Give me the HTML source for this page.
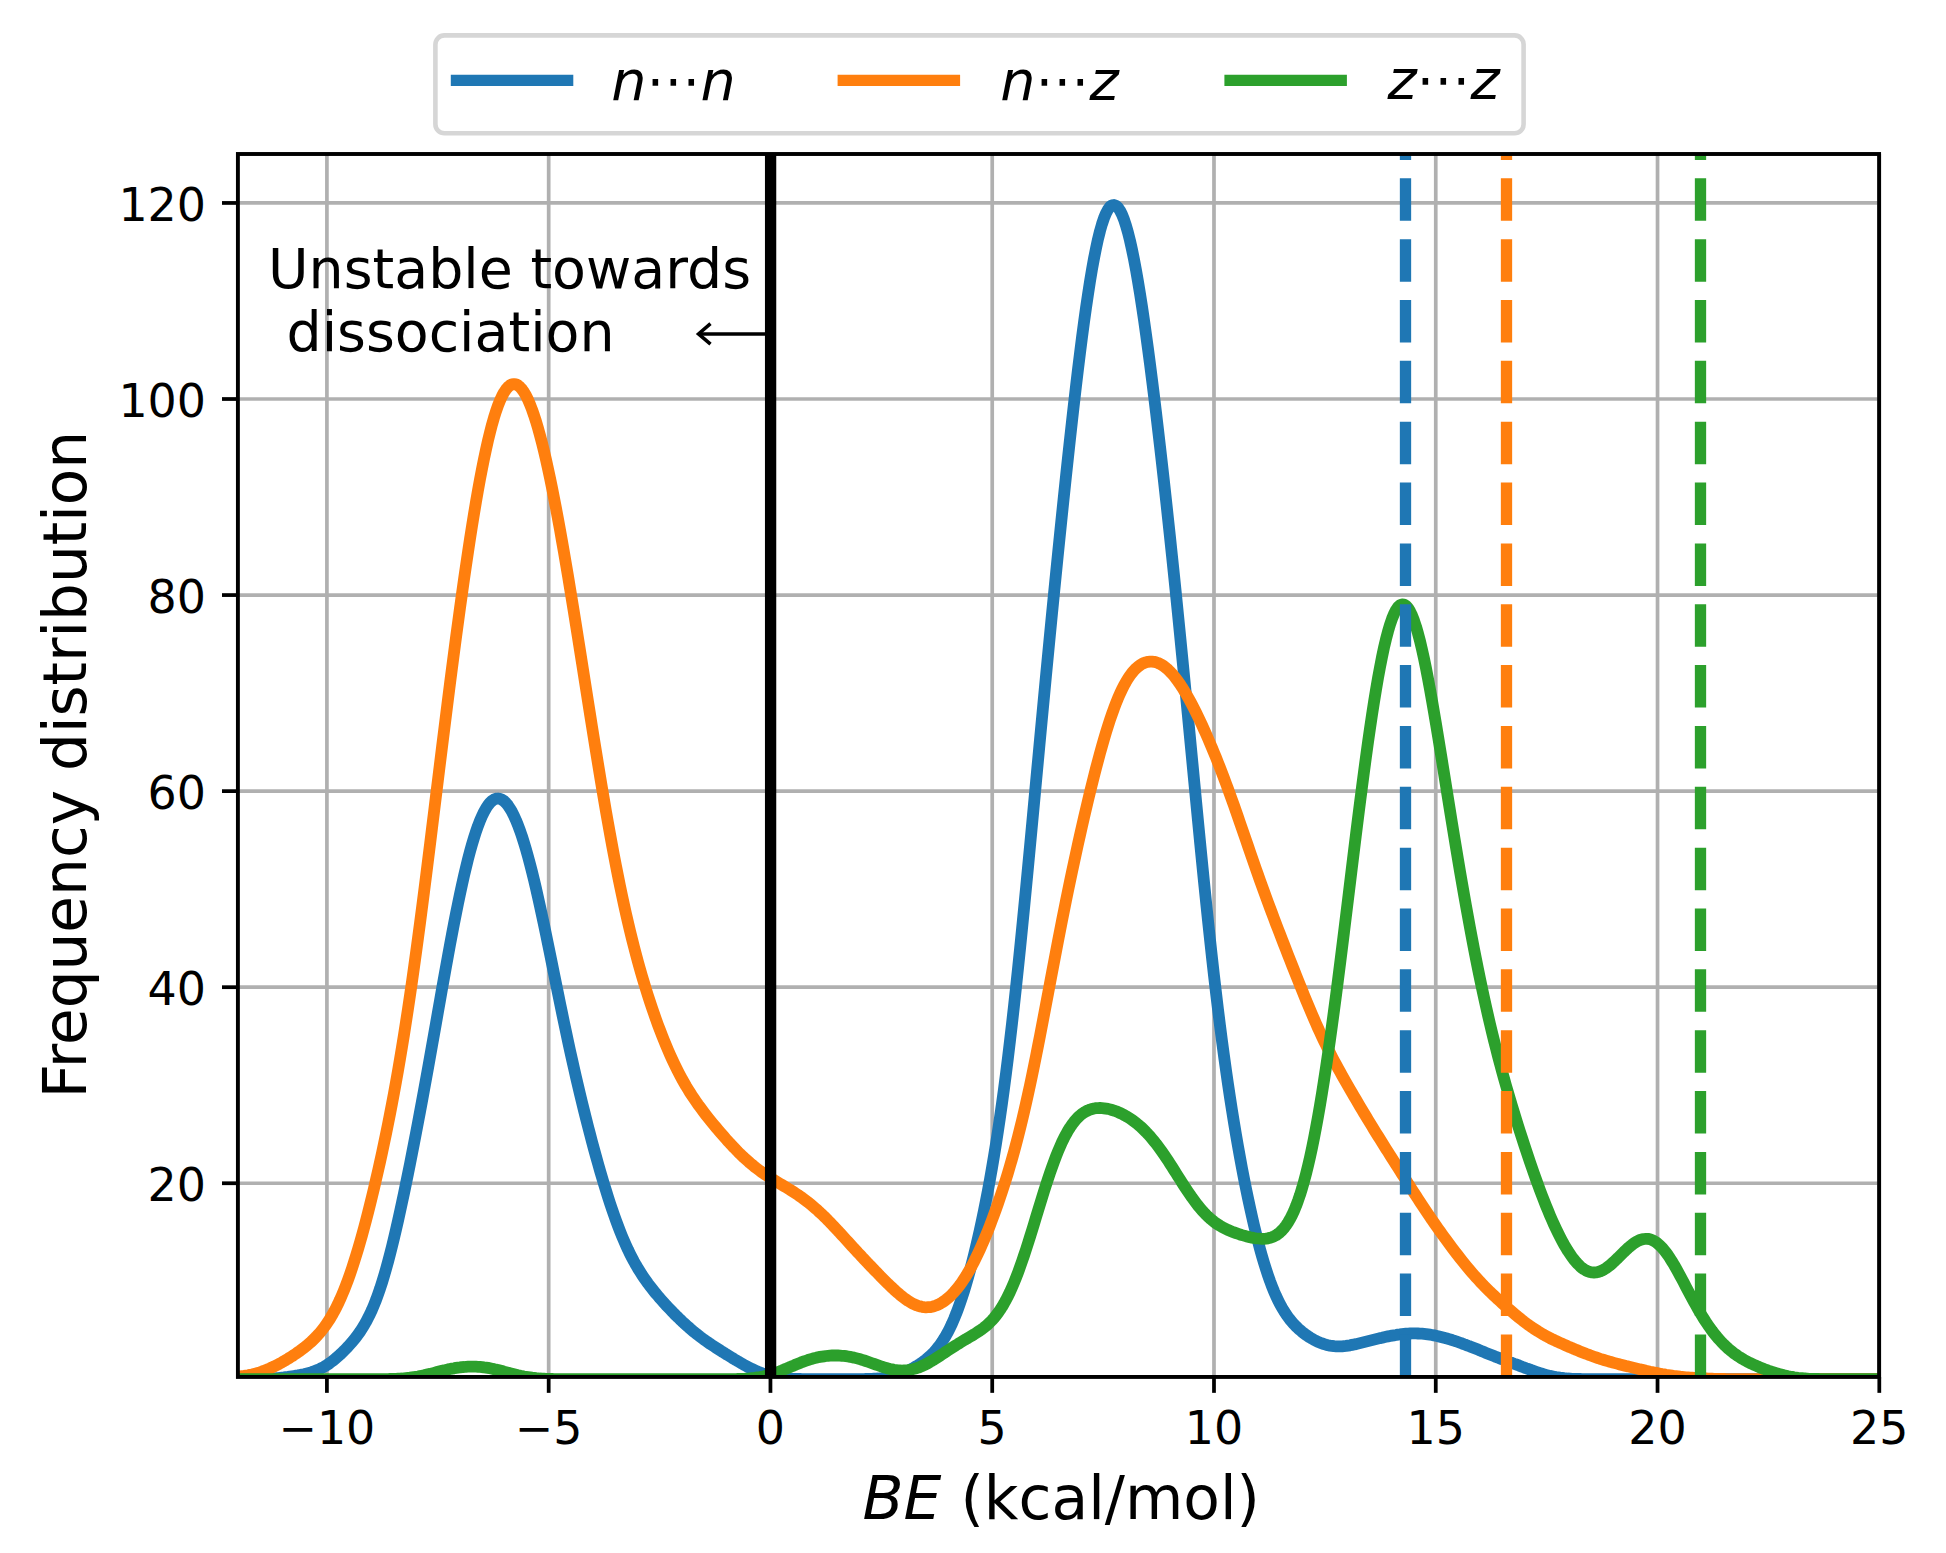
<!DOCTYPE html>
<html><head><meta charset="utf-8"><title>Frequency distribution</title>
<style>html,body{margin:0;padding:0;background:#fff}svg{display:block}text{font-family:"DejaVu Sans","Liberation Sans",sans-serif;fill:#000}.it{font-style:italic}</style></head><body>
<svg width="1946" height="1553" viewBox="0 0 1946 1553">
<rect width="1946" height="1553" fill="#fff"/>
<defs><clipPath id="ax"><rect x="237.9" y="154.0" width="1641.1999999999998" height="1222.95"/></clipPath></defs>
<g stroke="#b0b0b0" stroke-width="3.7" fill="none">
<line x1="326.91" y1="154.0" x2="326.91" y2="1376.95"/>
<line x1="548.68" y1="154.0" x2="548.68" y2="1376.95"/>
<line x1="770.45" y1="154.0" x2="770.45" y2="1376.95"/>
<line x1="992.22" y1="154.0" x2="992.22" y2="1376.95"/>
<line x1="1213.99" y1="154.0" x2="1213.99" y2="1376.95"/>
<line x1="1435.76" y1="154.0" x2="1435.76" y2="1376.95"/>
<line x1="1657.53" y1="154.0" x2="1657.53" y2="1376.95"/>
<line x1="1879.30" y1="154.0" x2="1879.30" y2="1376.95"/>
<line x1="237.9" y1="1183.25" x2="1879.1" y2="1183.25"/>
<line x1="237.9" y1="987.19" x2="1879.1" y2="987.19"/>
<line x1="237.9" y1="791.13" x2="1879.1" y2="791.13"/>
<line x1="237.9" y1="595.07" x2="1879.1" y2="595.07"/>
<line x1="237.9" y1="399.01" x2="1879.1" y2="399.01"/>
<line x1="237.9" y1="202.95" x2="1879.1" y2="202.95"/>
</g>
<g clip-path="url(#ax)" fill="none" stroke-width="11.8" stroke-linejoin="round" stroke-linecap="butt">
<path d="M230.0,1379.2 L232.0,1379.2 L234.0,1379.2 L236.0,1379.2 L238.0,1379.2 L240.0,1379.2 L242.0,1379.2 L244.0,1379.2 L246.0,1379.2 L248.0,1379.2 L250.0,1379.1 L252.0,1379.1 L254.0,1379.1 L256.0,1379.1 L258.0,1379.0 L260.0,1379.0 L262.0,1378.9 L264.0,1378.9 L266.0,1378.8 L268.0,1378.7 L270.0,1378.6 L272.0,1378.5 L274.0,1378.3 L276.0,1378.2 L278.0,1378.0 L280.0,1377.8 L282.0,1377.6 L284.0,1377.4 L286.0,1377.1 L288.0,1376.9 L290.0,1376.6 L292.0,1376.3 L294.0,1376.0 L296.0,1375.7 L298.0,1375.4 L300.0,1375.0 L302.0,1374.6 L304.0,1374.2 L306.0,1373.7 L308.0,1373.2 L310.0,1372.7 L312.0,1372.0 L314.0,1371.4 L316.0,1370.6 L318.0,1369.8 L320.0,1368.9 L322.0,1367.9 L324.0,1366.8 L326.0,1365.6 L328.0,1364.3 L330.0,1362.9 L332.0,1361.4 L334.0,1359.8 L336.0,1358.2 L338.0,1356.4 L340.0,1354.6 L342.0,1352.7 L344.0,1350.8 L346.0,1348.7 L348.0,1346.6 L350.0,1344.4 L352.0,1342.1 L354.0,1339.7 L356.0,1337.2 L358.0,1334.5 L360.0,1331.7 L362.0,1328.6 L364.0,1325.4 L366.0,1321.9 L368.0,1318.1 L370.0,1314.1 L372.0,1309.7 L374.0,1305.0 L376.0,1300.0 L378.0,1294.5 L380.0,1288.8 L382.0,1282.6 L384.0,1276.1 L386.0,1269.2 L388.0,1261.9 L390.0,1254.3 L392.0,1246.4 L394.0,1238.1 L396.0,1229.6 L398.0,1220.9 L400.0,1211.8 L402.0,1202.6 L404.0,1193.2 L406.0,1183.5 L408.0,1173.7 L410.0,1163.8 L412.0,1153.7 L414.0,1143.4 L416.0,1133.0 L418.0,1122.5 L420.0,1111.9 L422.0,1101.1 L424.0,1090.3 L426.0,1079.3 L428.0,1068.2 L430.0,1057.0 L432.0,1045.8 L434.0,1034.5 L436.0,1023.2 L438.0,1011.8 L440.0,1000.5 L442.0,989.1 L444.0,977.9 L446.0,966.7 L448.0,955.7 L450.0,944.8 L452.0,934.2 L454.0,923.7 L456.0,913.5 L458.0,903.6 L460.0,894.0 L462.0,884.7 L464.0,875.8 L466.0,867.3 L468.0,859.2 L470.0,851.6 L472.0,844.4 L474.0,837.7 L476.0,831.5 L478.0,825.8 L480.0,820.6 L482.0,816.0 L484.0,811.9 L486.0,808.3 L488.0,805.3 L490.0,802.8 L492.0,800.9 L494.0,799.5 L496.0,798.7 L498.0,798.5 L500.0,798.8 L502.0,799.7 L504.0,801.0 L506.0,803.0 L508.0,805.4 L510.0,808.4 L512.0,811.8 L514.0,815.8 L516.0,820.3 L518.0,825.2 L520.0,830.6 L522.0,836.4 L524.0,842.7 L526.0,849.4 L528.0,856.5 L530.0,864.0 L532.0,871.8 L534.0,879.9 L536.0,888.4 L538.0,897.2 L540.0,906.2 L542.0,915.4 L544.0,924.8 L546.0,934.4 L548.0,944.1 L550.0,953.9 L552.0,963.7 L554.0,973.6 L556.0,983.5 L558.0,993.3 L560.0,1003.1 L562.0,1012.8 L564.0,1022.4 L566.0,1031.8 L568.0,1041.2 L570.0,1050.4 L572.0,1059.4 L574.0,1068.3 L576.0,1077.1 L578.0,1085.7 L580.0,1094.1 L582.0,1102.4 L584.0,1110.5 L586.0,1118.5 L588.0,1126.4 L590.0,1134.1 L592.0,1141.7 L594.0,1149.1 L596.0,1156.4 L598.0,1163.5 L600.0,1170.6 L602.0,1177.4 L604.0,1184.1 L606.0,1190.6 L608.0,1197.0 L610.0,1203.2 L612.0,1209.2 L614.0,1214.9 L616.0,1220.5 L618.0,1225.9 L620.0,1231.1 L622.0,1236.1 L624.0,1240.8 L626.0,1245.3 L628.0,1249.7 L630.0,1253.8 L632.0,1257.7 L634.0,1261.5 L636.0,1265.1 L638.0,1268.5 L640.0,1271.7 L642.0,1274.9 L644.0,1277.8 L646.0,1280.7 L648.0,1283.5 L650.0,1286.1 L652.0,1288.7 L654.0,1291.2 L656.0,1293.7 L658.0,1296.0 L660.0,1298.4 L662.0,1300.6 L664.0,1302.9 L666.0,1305.1 L668.0,1307.2 L670.0,1309.3 L672.0,1311.4 L674.0,1313.5 L676.0,1315.5 L678.0,1317.4 L680.0,1319.4 L682.0,1321.3 L684.0,1323.1 L686.0,1325.0 L688.0,1326.7 L690.0,1328.5 L692.0,1330.2 L694.0,1331.9 L696.0,1333.5 L698.0,1335.0 L700.0,1336.6 L702.0,1338.1 L704.0,1339.6 L706.0,1341.0 L708.0,1342.4 L710.0,1343.8 L712.0,1345.1 L714.0,1346.4 L716.0,1347.7 L718.0,1349.0 L720.0,1350.3 L722.0,1351.6 L724.0,1352.8 L726.0,1354.1 L728.0,1355.3 L730.0,1356.5 L732.0,1357.7 L734.0,1359.0 L736.0,1360.2 L738.0,1361.3 L740.0,1362.5 L742.0,1363.7 L744.0,1364.8 L746.0,1365.9 L748.0,1367.0 L750.0,1368.0 L752.0,1369.0 L754.0,1369.9 L756.0,1370.8 L758.0,1371.7 L760.0,1372.5 L762.0,1373.3 L764.0,1374.0 L766.0,1374.6 L768.0,1375.2 L770.0,1375.7 L772.0,1376.2 L774.0,1376.7 L776.0,1377.1 L778.0,1377.4 L780.0,1377.7 L782.0,1378.0 L784.0,1378.2 L786.0,1378.4 L788.0,1378.5 L790.0,1378.7 L792.0,1378.8 L794.0,1378.9 L796.0,1378.9 L798.0,1379.0 L800.0,1379.0 L802.0,1379.1 L804.0,1379.1 L806.0,1379.1 L808.0,1379.1 L810.0,1379.2 L812.0,1379.2 L814.0,1379.2 L816.0,1379.2 L818.0,1379.2 L820.0,1379.2 L822.0,1379.2 L824.0,1379.2 L826.0,1379.2 L828.0,1379.2 L830.0,1379.2 L832.0,1379.2 L834.0,1379.2 L836.0,1379.2 L838.0,1379.2 L840.0,1379.2 L842.0,1379.2 L844.0,1379.2 L846.0,1379.2 L848.0,1379.2 L850.0,1379.2 L852.0,1379.2 L854.0,1379.2 L856.0,1379.2 L858.0,1379.2 L860.0,1379.1 L862.0,1379.1 L864.0,1379.1 L866.0,1379.0 L868.0,1379.0 L870.0,1378.9 L872.0,1378.8 L874.0,1378.7 L876.0,1378.6 L878.0,1378.5 L880.0,1378.3 L882.0,1378.1 L884.0,1377.8 L886.0,1377.5 L888.0,1377.2 L890.0,1376.8 L892.0,1376.4 L894.0,1375.9 L896.0,1375.3 L898.0,1374.7 L900.0,1374.0 L902.0,1373.3 L904.0,1372.5 L906.0,1371.7 L908.0,1370.7 L910.0,1369.8 L912.0,1368.7 L914.0,1367.6 L916.0,1366.4 L918.0,1365.2 L920.0,1363.9 L922.0,1362.5 L924.0,1361.1 L926.0,1359.5 L928.0,1357.8 L930.0,1356.1 L932.0,1354.1 L934.0,1352.1 L936.0,1349.8 L938.0,1347.4 L940.0,1344.8 L942.0,1341.9 L944.0,1338.8 L946.0,1335.4 L948.0,1331.8 L950.0,1327.8 L952.0,1323.6 L954.0,1319.0 L956.0,1314.1 L958.0,1308.8 L960.0,1303.3 L962.0,1297.4 L964.0,1291.1 L966.0,1284.5 L968.0,1277.6 L970.0,1270.4 L972.0,1262.8 L974.0,1254.9 L976.0,1246.7 L978.0,1238.2 L980.0,1229.3 L982.0,1220.0 L984.0,1210.4 L986.0,1200.4 L988.0,1190.0 L990.0,1179.2 L992.0,1167.9 L994.0,1156.1 L996.0,1143.8 L998.0,1130.9 L1000.0,1117.4 L1002.0,1103.4 L1004.0,1088.7 L1006.0,1073.4 L1008.0,1057.4 L1010.0,1040.8 L1012.0,1023.6 L1014.0,1005.8 L1016.0,987.4 L1018.0,968.5 L1020.0,949.1 L1022.0,929.2 L1024.0,908.9 L1026.0,888.3 L1028.0,867.4 L1030.0,846.2 L1032.0,825.0 L1034.0,803.6 L1036.0,782.1 L1038.0,760.7 L1040.0,739.3 L1042.0,718.0 L1044.0,696.9 L1046.0,675.8 L1048.0,655.0 L1050.0,634.3 L1052.0,613.8 L1054.0,593.5 L1056.0,573.4 L1058.0,553.5 L1060.0,533.8 L1062.0,514.4 L1064.0,495.2 L1066.0,476.2 L1068.0,457.5 L1070.0,439.1 L1072.0,421.1 L1074.0,403.4 L1076.0,386.1 L1078.0,369.3 L1080.0,353.1 L1082.0,337.3 L1084.0,322.3 L1086.0,307.9 L1088.0,294.3 L1090.0,281.4 L1092.0,269.4 L1094.0,258.4 L1096.0,248.3 L1098.0,239.1 L1100.0,231.0 L1102.0,224.0 L1104.0,218.1 L1106.0,213.2 L1108.0,209.5 L1110.0,206.8 L1112.0,205.3 L1114.0,205.0 L1116.0,205.7 L1118.0,207.6 L1120.0,210.5 L1122.0,214.5 L1124.0,219.5 L1126.0,225.6 L1128.0,232.6 L1130.0,240.6 L1132.0,249.6 L1134.0,259.4 L1136.0,270.0 L1138.0,281.5 L1140.0,293.6 L1142.0,306.5 L1144.0,320.0 L1146.0,334.2 L1148.0,348.9 L1150.0,364.1 L1152.0,379.7 L1154.0,395.8 L1156.0,412.3 L1158.0,429.2 L1160.0,446.4 L1162.0,463.9 L1164.0,481.7 L1166.0,499.8 L1168.0,518.3 L1170.0,537.0 L1172.0,556.0 L1174.0,575.2 L1176.0,594.7 L1178.0,614.5 L1180.0,634.6 L1182.0,654.8 L1184.0,675.3 L1186.0,695.9 L1188.0,716.7 L1190.0,737.6 L1192.0,758.5 L1194.0,779.4 L1196.0,800.3 L1198.0,821.0 L1200.0,841.6 L1202.0,861.9 L1204.0,881.9 L1206.0,901.5 L1208.0,920.7 L1210.0,939.5 L1212.0,957.8 L1214.0,975.6 L1216.0,992.8 L1218.0,1009.4 L1220.0,1025.5 L1222.0,1041.0 L1224.0,1055.9 L1226.0,1070.3 L1228.0,1084.2 L1230.0,1097.5 L1232.0,1110.4 L1234.0,1122.8 L1236.0,1134.7 L1238.0,1146.3 L1240.0,1157.4 L1242.0,1168.2 L1244.0,1178.6 L1246.0,1188.6 L1248.0,1198.3 L1250.0,1207.6 L1252.0,1216.5 L1254.0,1225.2 L1256.0,1233.4 L1258.0,1241.3 L1260.0,1248.9 L1262.0,1256.1 L1264.0,1262.9 L1266.0,1269.3 L1268.0,1275.3 L1270.0,1281.0 L1272.0,1286.3 L1274.0,1291.3 L1276.0,1295.9 L1278.0,1300.1 L1280.0,1304.1 L1282.0,1307.7 L1284.0,1311.0 L1286.0,1314.1 L1288.0,1317.0 L1290.0,1319.6 L1292.0,1322.0 L1294.0,1324.3 L1296.0,1326.4 L1298.0,1328.3 L1300.0,1330.1 L1302.0,1331.8 L1304.0,1333.4 L1306.0,1334.8 L1308.0,1336.2 L1310.0,1337.5 L1312.0,1338.7 L1314.0,1339.8 L1316.0,1340.9 L1318.0,1341.8 L1320.0,1342.7 L1322.0,1343.4 L1324.0,1344.1 L1326.0,1344.7 L1328.0,1345.2 L1330.0,1345.6 L1332.0,1345.9 L1334.0,1346.2 L1336.0,1346.3 L1338.0,1346.4 L1340.0,1346.3 L1342.0,1346.3 L1344.0,1346.1 L1346.0,1345.9 L1348.0,1345.6 L1350.0,1345.3 L1352.0,1344.9 L1354.0,1344.5 L1356.0,1344.1 L1358.0,1343.6 L1360.0,1343.1 L1362.0,1342.6 L1364.0,1342.1 L1366.0,1341.6 L1368.0,1341.1 L1370.0,1340.6 L1372.0,1340.1 L1374.0,1339.6 L1376.0,1339.1 L1378.0,1338.6 L1380.0,1338.1 L1382.0,1337.7 L1384.0,1337.2 L1386.0,1336.8 L1388.0,1336.4 L1390.0,1336.0 L1392.0,1335.6 L1394.0,1335.3 L1396.0,1335.0 L1398.0,1334.6 L1400.0,1334.4 L1402.0,1334.1 L1404.0,1333.9 L1406.0,1333.7 L1408.0,1333.6 L1410.0,1333.5 L1412.0,1333.4 L1414.0,1333.4 L1416.0,1333.4 L1418.0,1333.5 L1420.0,1333.6 L1422.0,1333.7 L1424.0,1333.9 L1426.0,1334.1 L1428.0,1334.4 L1430.0,1334.7 L1432.0,1335.0 L1434.0,1335.4 L1436.0,1335.8 L1438.0,1336.2 L1440.0,1336.7 L1442.0,1337.2 L1444.0,1337.7 L1446.0,1338.3 L1448.0,1338.8 L1450.0,1339.4 L1452.0,1340.0 L1454.0,1340.7 L1456.0,1341.3 L1458.0,1342.0 L1460.0,1342.7 L1462.0,1343.4 L1464.0,1344.2 L1466.0,1344.9 L1468.0,1345.7 L1470.0,1346.4 L1472.0,1347.2 L1474.0,1348.0 L1476.0,1348.8 L1478.0,1349.6 L1480.0,1350.4 L1482.0,1351.3 L1484.0,1352.1 L1486.0,1352.9 L1488.0,1353.7 L1490.0,1354.5 L1492.0,1355.3 L1494.0,1356.1 L1496.0,1356.9 L1498.0,1357.6 L1500.0,1358.4 L1502.0,1359.2 L1504.0,1359.9 L1506.0,1360.7 L1508.0,1361.4 L1510.0,1362.2 L1512.0,1362.9 L1514.0,1363.7 L1516.0,1364.4 L1518.0,1365.1 L1520.0,1365.9 L1522.0,1366.7 L1524.0,1367.4 L1526.0,1368.2 L1528.0,1368.9 L1530.0,1369.6 L1532.0,1370.4 L1534.0,1371.1 L1536.0,1371.8 L1538.0,1372.5 L1540.0,1373.1 L1542.0,1373.7 L1544.0,1374.3 L1546.0,1374.9 L1548.0,1375.4 L1550.0,1375.9 L1552.0,1376.3 L1554.0,1376.7 L1556.0,1377.1 L1558.0,1377.4 L1560.0,1377.7 L1562.0,1377.9 L1564.0,1378.2 L1566.0,1378.3 L1568.0,1378.5 L1570.0,1378.6 L1572.0,1378.8 L1574.0,1378.8 L1576.0,1378.9 L1578.0,1379.0 L1580.0,1379.0 L1582.0,1379.1 L1584.0,1379.1 L1586.0,1379.1 L1588.0,1379.1 L1590.0,1379.2 L1592.0,1379.2 L1594.0,1379.2 L1596.0,1379.2 L1598.0,1379.2 L1600.0,1379.2 L1602.0,1379.2 L1604.0,1379.2 L1606.0,1379.2 L1608.0,1379.2 L1610.0,1379.2 L1612.0,1379.2 L1614.0,1379.2 L1616.0,1379.2 L1618.0,1379.2 L1620.0,1379.2 L1622.0,1379.2 L1624.0,1379.2 L1626.0,1379.2 L1628.0,1379.2 L1630.0,1379.2 L1632.0,1379.2 L1634.0,1379.2 L1636.0,1379.2 L1638.0,1379.2 L1640.0,1379.2 L1642.0,1379.2 L1644.0,1379.2 L1646.0,1379.2 L1648.0,1379.2 L1650.0,1379.2 L1652.0,1379.2 L1654.0,1379.2 L1656.0,1379.2 L1658.0,1379.2 L1660.0,1379.2 L1662.0,1379.2 L1664.0,1379.2 L1666.0,1379.2 L1668.0,1379.2 L1670.0,1379.2 L1672.0,1379.2 L1674.0,1379.2 L1676.0,1379.2 L1678.0,1379.2 L1680.0,1379.2 L1682.0,1379.2 L1684.0,1379.2 L1686.0,1379.2 L1688.0,1379.2 L1690.0,1379.2 L1692.0,1379.2 L1694.0,1379.2 L1696.0,1379.2 L1698.0,1379.2 L1700.0,1379.2 L1702.0,1379.2 L1704.0,1379.2 L1706.0,1379.2 L1708.0,1379.2 L1710.0,1379.2 L1712.0,1379.2 L1714.0,1379.2 L1716.0,1379.2 L1718.0,1379.2 L1720.0,1379.2 L1722.0,1379.2 L1724.0,1379.2 L1726.0,1379.2 L1728.0,1379.2 L1730.0,1379.2 L1732.0,1379.2 L1734.0,1379.2 L1736.0,1379.2 L1738.0,1379.2 L1740.0,1379.2 L1742.0,1379.2 L1744.0,1379.2 L1746.0,1379.2 L1748.0,1379.2 L1750.0,1379.2 L1752.0,1379.2 L1754.0,1379.2 L1756.0,1379.2 L1758.0,1379.2 L1760.0,1379.2 L1762.0,1379.2 L1764.0,1379.2 L1766.0,1379.2 L1768.0,1379.2 L1770.0,1379.2 L1772.0,1379.2 L1774.0,1379.2 L1776.0,1379.2 L1778.0,1379.2 L1780.0,1379.2 L1782.0,1379.2 L1784.0,1379.2 L1786.0,1379.2 L1788.0,1379.2 L1790.0,1379.2 L1792.0,1379.2 L1794.0,1379.2 L1796.0,1379.2 L1798.0,1379.2 L1800.0,1379.2 L1802.0,1379.2 L1804.0,1379.2 L1806.0,1379.2 L1808.0,1379.2 L1810.0,1379.2 L1812.0,1379.2 L1814.0,1379.2 L1816.0,1379.2 L1818.0,1379.2 L1820.0,1379.2 L1822.0,1379.2 L1824.0,1379.2 L1826.0,1379.2 L1828.0,1379.2 L1830.0,1379.2 L1832.0,1379.2 L1834.0,1379.2 L1836.0,1379.2 L1838.0,1379.2 L1840.0,1379.2 L1842.0,1379.2 L1844.0,1379.2 L1846.0,1379.2 L1848.0,1379.2 L1850.0,1379.2 L1852.0,1379.2 L1854.0,1379.2 L1856.0,1379.2 L1858.0,1379.2 L1860.0,1379.2 L1862.0,1379.2 L1864.0,1379.2 L1866.0,1379.2 L1868.0,1379.2 L1870.0,1379.2 L1872.0,1379.2 L1874.0,1379.2 L1876.0,1379.2 L1878.0,1379.2 L1880.0,1379.2 L1882.0,1379.2 L1884.0,1379.2 L1886.0,1379.2 L1888.0,1379.2 L1890.0,1379.2" stroke="#1f77b4"/>
<path d="M230.0,1376.7 L232.0,1376.7 L234.0,1376.7 L236.0,1376.6 L238.0,1376.5 L240.0,1376.3 L242.0,1376.1 L244.0,1375.9 L246.0,1375.6 L248.0,1375.3 L250.0,1374.9 L252.0,1374.5 L254.0,1374.0 L256.0,1373.5 L258.0,1372.9 L260.0,1372.3 L262.0,1371.6 L264.0,1370.8 L266.0,1370.1 L268.0,1369.2 L270.0,1368.4 L272.0,1367.4 L274.0,1366.5 L276.0,1365.5 L278.0,1364.5 L280.0,1363.4 L282.0,1362.3 L284.0,1361.1 L286.0,1360.0 L288.0,1358.8 L290.0,1357.5 L292.0,1356.3 L294.0,1354.9 L296.0,1353.6 L298.0,1352.2 L300.0,1350.8 L302.0,1349.3 L304.0,1347.8 L306.0,1346.2 L308.0,1344.5 L310.0,1342.8 L312.0,1341.0 L314.0,1339.0 L316.0,1337.0 L318.0,1334.8 L320.0,1332.6 L322.0,1330.1 L324.0,1327.5 L326.0,1324.8 L328.0,1321.8 L330.0,1318.7 L332.0,1315.3 L334.0,1311.7 L336.0,1307.9 L338.0,1303.9 L340.0,1299.6 L342.0,1295.0 L344.0,1290.2 L346.0,1285.1 L348.0,1279.8 L350.0,1274.2 L352.0,1268.3 L354.0,1262.2 L356.0,1255.8 L358.0,1249.2 L360.0,1242.4 L362.0,1235.3 L364.0,1228.0 L366.0,1220.4 L368.0,1212.7 L370.0,1204.8 L372.0,1196.6 L374.0,1188.3 L376.0,1179.7 L378.0,1171.0 L380.0,1162.1 L382.0,1152.9 L384.0,1143.6 L386.0,1134.0 L388.0,1124.1 L390.0,1114.0 L392.0,1103.6 L394.0,1093.0 L396.0,1082.0 L398.0,1070.7 L400.0,1059.0 L402.0,1047.0 L404.0,1034.7 L406.0,1021.9 L408.0,1008.9 L410.0,995.4 L412.0,981.6 L414.0,967.4 L416.0,952.9 L418.0,938.1 L420.0,923.1 L422.0,907.7 L424.0,892.2 L426.0,876.4 L428.0,860.5 L430.0,844.4 L432.0,828.3 L434.0,812.1 L436.0,795.8 L438.0,779.6 L440.0,763.4 L442.0,747.2 L444.0,731.2 L446.0,715.2 L448.0,699.3 L450.0,683.6 L452.0,668.1 L454.0,652.7 L456.0,637.6 L458.0,622.7 L460.0,608.0 L462.0,593.6 L464.0,579.4 L466.0,565.6 L468.0,552.1 L470.0,538.9 L472.0,526.1 L474.0,513.8 L476.0,501.8 L478.0,490.3 L480.0,479.3 L482.0,468.8 L484.0,458.8 L486.0,449.4 L488.0,440.5 L490.0,432.3 L492.0,424.6 L494.0,417.6 L496.0,411.2 L498.0,405.5 L500.0,400.5 L502.0,396.1 L504.0,392.4 L506.0,389.4 L508.0,387.1 L510.0,385.4 L512.0,384.4 L514.0,384.1 L516.0,384.4 L518.0,385.4 L520.0,387.1 L522.0,389.3 L524.0,392.2 L526.0,395.6 L528.0,399.7 L530.0,404.3 L532.0,409.5 L534.0,415.2 L536.0,421.4 L538.0,428.2 L540.0,435.4 L542.0,443.0 L544.0,451.2 L546.0,459.7 L548.0,468.7 L550.0,478.0 L552.0,487.7 L554.0,497.8 L556.0,508.2 L558.0,518.8 L560.0,529.8 L562.0,541.1 L564.0,552.5 L566.0,564.2 L568.0,576.1 L570.0,588.2 L572.0,600.5 L574.0,612.8 L576.0,625.3 L578.0,637.9 L580.0,650.5 L582.0,663.2 L584.0,675.9 L586.0,688.6 L588.0,701.3 L590.0,714.0 L592.0,726.6 L594.0,739.1 L596.0,751.5 L598.0,763.8 L600.0,776.0 L602.0,788.0 L604.0,799.8 L606.0,811.4 L608.0,822.8 L610.0,833.9 L612.0,844.9 L614.0,855.5 L616.0,865.9 L618.0,876.0 L620.0,885.9 L622.0,895.4 L624.0,904.7 L626.0,913.7 L628.0,922.4 L630.0,930.8 L632.0,939.0 L634.0,946.9 L636.0,954.6 L638.0,962.0 L640.0,969.1 L642.0,976.1 L644.0,982.8 L646.0,989.4 L648.0,995.7 L650.0,1001.9 L652.0,1007.9 L654.0,1013.7 L656.0,1019.4 L658.0,1024.9 L660.0,1030.2 L662.0,1035.4 L664.0,1040.4 L666.0,1045.3 L668.0,1050.0 L670.0,1054.6 L672.0,1059.0 L674.0,1063.3 L676.0,1067.4 L678.0,1071.4 L680.0,1075.2 L682.0,1079.0 L684.0,1082.5 L686.0,1086.0 L688.0,1089.3 L690.0,1092.5 L692.0,1095.6 L694.0,1098.6 L696.0,1101.5 L698.0,1104.4 L700.0,1107.1 L702.0,1109.8 L704.0,1112.5 L706.0,1115.1 L708.0,1117.6 L710.0,1120.1 L712.0,1122.6 L714.0,1125.0 L716.0,1127.4 L718.0,1129.8 L720.0,1132.1 L722.0,1134.4 L724.0,1136.7 L726.0,1139.0 L728.0,1141.2 L730.0,1143.4 L732.0,1145.5 L734.0,1147.7 L736.0,1149.7 L738.0,1151.8 L740.0,1153.8 L742.0,1155.7 L744.0,1157.6 L746.0,1159.4 L748.0,1161.2 L750.0,1163.0 L752.0,1164.6 L754.0,1166.3 L756.0,1167.9 L758.0,1169.4 L760.0,1170.9 L762.0,1172.3 L764.0,1173.7 L766.0,1175.0 L768.0,1176.4 L770.0,1177.6 L772.0,1178.9 L774.0,1180.1 L776.0,1181.3 L778.0,1182.5 L780.0,1183.7 L782.0,1184.9 L784.0,1186.1 L786.0,1187.3 L788.0,1188.5 L790.0,1189.7 L792.0,1191.0 L794.0,1192.3 L796.0,1193.6 L798.0,1194.9 L800.0,1196.3 L802.0,1197.7 L804.0,1199.2 L806.0,1200.7 L808.0,1202.2 L810.0,1203.8 L812.0,1205.5 L814.0,1207.2 L816.0,1208.9 L818.0,1210.7 L820.0,1212.6 L822.0,1214.4 L824.0,1216.4 L826.0,1218.3 L828.0,1220.4 L830.0,1222.4 L832.0,1224.5 L834.0,1226.6 L836.0,1228.7 L838.0,1230.9 L840.0,1233.0 L842.0,1235.2 L844.0,1237.4 L846.0,1239.6 L848.0,1241.8 L850.0,1244.0 L852.0,1246.2 L854.0,1248.4 L856.0,1250.5 L858.0,1252.7 L860.0,1254.8 L862.0,1257.0 L864.0,1259.1 L866.0,1261.2 L868.0,1263.4 L870.0,1265.5 L872.0,1267.5 L874.0,1269.6 L876.0,1271.7 L878.0,1273.7 L880.0,1275.8 L882.0,1277.8 L884.0,1279.8 L886.0,1281.8 L888.0,1283.8 L890.0,1285.7 L892.0,1287.6 L894.0,1289.5 L896.0,1291.3 L898.0,1293.1 L900.0,1294.8 L902.0,1296.4 L904.0,1298.0 L906.0,1299.4 L908.0,1300.8 L910.0,1302.0 L912.0,1303.2 L914.0,1304.2 L916.0,1305.1 L918.0,1305.8 L920.0,1306.4 L922.0,1306.8 L924.0,1307.1 L926.0,1307.3 L928.0,1307.2 L930.0,1307.1 L932.0,1306.7 L934.0,1306.2 L936.0,1305.5 L938.0,1304.7 L940.0,1303.7 L942.0,1302.5 L944.0,1301.2 L946.0,1299.7 L948.0,1298.1 L950.0,1296.3 L952.0,1294.3 L954.0,1292.2 L956.0,1289.9 L958.0,1287.5 L960.0,1284.9 L962.0,1282.1 L964.0,1279.1 L966.0,1276.0 L968.0,1272.6 L970.0,1269.2 L972.0,1265.5 L974.0,1261.7 L976.0,1257.7 L978.0,1253.5 L980.0,1249.2 L982.0,1244.7 L984.0,1240.1 L986.0,1235.3 L988.0,1230.4 L990.0,1225.3 L992.0,1220.0 L994.0,1214.7 L996.0,1209.2 L998.0,1203.5 L1000.0,1197.7 L1002.0,1191.7 L1004.0,1185.5 L1006.0,1179.2 L1008.0,1172.7 L1010.0,1165.9 L1012.0,1159.0 L1014.0,1151.8 L1016.0,1144.4 L1018.0,1136.7 L1020.0,1128.8 L1022.0,1120.6 L1024.0,1112.1 L1026.0,1103.4 L1028.0,1094.4 L1030.0,1085.2 L1032.0,1075.7 L1034.0,1066.0 L1036.0,1056.1 L1038.0,1046.0 L1040.0,1035.8 L1042.0,1025.4 L1044.0,1014.9 L1046.0,1004.4 L1048.0,993.8 L1050.0,983.2 L1052.0,972.6 L1054.0,962.1 L1056.0,951.6 L1058.0,941.2 L1060.0,930.9 L1062.0,920.7 L1064.0,910.7 L1066.0,900.7 L1068.0,890.9 L1070.0,881.3 L1072.0,871.8 L1074.0,862.4 L1076.0,853.2 L1078.0,844.1 L1080.0,835.1 L1082.0,826.3 L1084.0,817.5 L1086.0,809.0 L1088.0,800.5 L1090.0,792.2 L1092.0,784.1 L1094.0,776.1 L1096.0,768.3 L1098.0,760.7 L1100.0,753.3 L1102.0,746.1 L1104.0,739.1 L1106.0,732.4 L1108.0,726.0 L1110.0,719.8 L1112.0,714.0 L1114.0,708.4 L1116.0,703.2 L1118.0,698.2 L1120.0,693.6 L1122.0,689.4 L1124.0,685.4 L1126.0,681.8 L1128.0,678.5 L1130.0,675.5 L1132.0,672.9 L1134.0,670.5 L1136.0,668.4 L1138.0,666.7 L1140.0,665.2 L1142.0,663.9 L1144.0,663.0 L1146.0,662.2 L1148.0,661.8 L1150.0,661.6 L1152.0,661.6 L1154.0,661.8 L1156.0,662.3 L1158.0,663.0 L1160.0,663.9 L1162.0,665.0 L1164.0,666.3 L1166.0,667.9 L1168.0,669.6 L1170.0,671.6 L1172.0,673.7 L1174.0,676.0 L1176.0,678.6 L1178.0,681.3 L1180.0,684.2 L1182.0,687.2 L1184.0,690.4 L1186.0,693.8 L1188.0,697.2 L1190.0,700.9 L1192.0,704.6 L1194.0,708.5 L1196.0,712.5 L1198.0,716.6 L1200.0,720.8 L1202.0,725.1 L1204.0,729.5 L1206.0,733.9 L1208.0,738.5 L1210.0,743.2 L1212.0,747.9 L1214.0,752.7 L1216.0,757.6 L1218.0,762.6 L1220.0,767.7 L1222.0,772.9 L1224.0,778.2 L1226.0,783.5 L1228.0,788.9 L1230.0,794.4 L1232.0,800.0 L1234.0,805.6 L1236.0,811.3 L1238.0,817.0 L1240.0,822.8 L1242.0,828.6 L1244.0,834.4 L1246.0,840.2 L1248.0,846.0 L1250.0,851.8 L1252.0,857.6 L1254.0,863.4 L1256.0,869.1 L1258.0,874.8 L1260.0,880.4 L1262.0,886.0 L1264.0,891.6 L1266.0,897.1 L1268.0,902.5 L1270.0,907.9 L1272.0,913.2 L1274.0,918.5 L1276.0,923.8 L1278.0,929.0 L1280.0,934.2 L1282.0,939.4 L1284.0,944.5 L1286.0,949.6 L1288.0,954.8 L1290.0,959.9 L1292.0,965.0 L1294.0,970.0 L1296.0,975.1 L1298.0,980.1 L1300.0,985.2 L1302.0,990.1 L1304.0,995.1 L1306.0,1000.0 L1308.0,1004.8 L1310.0,1009.6 L1312.0,1014.3 L1314.0,1018.9 L1316.0,1023.5 L1318.0,1028.0 L1320.0,1032.4 L1322.0,1036.7 L1324.0,1040.9 L1326.0,1045.0 L1328.0,1049.0 L1330.0,1053.0 L1332.0,1056.9 L1334.0,1060.7 L1336.0,1064.4 L1338.0,1068.1 L1340.0,1071.7 L1342.0,1075.3 L1344.0,1078.9 L1346.0,1082.4 L1348.0,1085.9 L1350.0,1089.4 L1352.0,1092.8 L1354.0,1096.2 L1356.0,1099.6 L1358.0,1103.0 L1360.0,1106.4 L1362.0,1109.8 L1364.0,1113.1 L1366.0,1116.4 L1368.0,1119.7 L1370.0,1123.0 L1372.0,1126.3 L1374.0,1129.6 L1376.0,1132.8 L1378.0,1136.0 L1380.0,1139.2 L1382.0,1142.4 L1384.0,1145.6 L1386.0,1148.8 L1388.0,1151.9 L1390.0,1155.1 L1392.0,1158.2 L1394.0,1161.4 L1396.0,1164.5 L1398.0,1167.7 L1400.0,1170.8 L1402.0,1174.0 L1404.0,1177.1 L1406.0,1180.2 L1408.0,1183.4 L1410.0,1186.5 L1412.0,1189.6 L1414.0,1192.7 L1416.0,1195.8 L1418.0,1198.9 L1420.0,1202.0 L1422.0,1205.0 L1424.0,1208.0 L1426.0,1211.0 L1428.0,1214.0 L1430.0,1216.9 L1432.0,1219.9 L1434.0,1222.7 L1436.0,1225.6 L1438.0,1228.5 L1440.0,1231.3 L1442.0,1234.1 L1444.0,1236.9 L1446.0,1239.6 L1448.0,1242.3 L1450.0,1245.0 L1452.0,1247.7 L1454.0,1250.3 L1456.0,1253.0 L1458.0,1255.5 L1460.0,1258.1 L1462.0,1260.6 L1464.0,1263.1 L1466.0,1265.6 L1468.0,1268.0 L1470.0,1270.3 L1472.0,1272.7 L1474.0,1275.0 L1476.0,1277.2 L1478.0,1279.4 L1480.0,1281.6 L1482.0,1283.7 L1484.0,1285.8 L1486.0,1287.8 L1488.0,1289.8 L1490.0,1291.8 L1492.0,1293.7 L1494.0,1295.6 L1496.0,1297.5 L1498.0,1299.4 L1500.0,1301.2 L1502.0,1303.0 L1504.0,1304.8 L1506.0,1306.6 L1508.0,1308.4 L1510.0,1310.1 L1512.0,1311.8 L1514.0,1313.5 L1516.0,1315.2 L1518.0,1316.8 L1520.0,1318.4 L1522.0,1320.0 L1524.0,1321.6 L1526.0,1323.1 L1528.0,1324.6 L1530.0,1326.0 L1532.0,1327.4 L1534.0,1328.7 L1536.0,1330.0 L1538.0,1331.3 L1540.0,1332.5 L1542.0,1333.7 L1544.0,1334.9 L1546.0,1336.0 L1548.0,1337.0 L1550.0,1338.1 L1552.0,1339.1 L1554.0,1340.0 L1556.0,1341.0 L1558.0,1341.9 L1560.0,1342.8 L1562.0,1343.7 L1564.0,1344.6 L1566.0,1345.5 L1568.0,1346.4 L1570.0,1347.2 L1572.0,1348.1 L1574.0,1348.9 L1576.0,1349.8 L1578.0,1350.6 L1580.0,1351.4 L1582.0,1352.2 L1584.0,1353.0 L1586.0,1353.8 L1588.0,1354.5 L1590.0,1355.3 L1592.0,1356.0 L1594.0,1356.7 L1596.0,1357.4 L1598.0,1358.1 L1600.0,1358.8 L1602.0,1359.4 L1604.0,1360.0 L1606.0,1360.6 L1608.0,1361.2 L1610.0,1361.8 L1612.0,1362.3 L1614.0,1362.9 L1616.0,1363.4 L1618.0,1363.9 L1620.0,1364.5 L1622.0,1365.0 L1624.0,1365.5 L1626.0,1366.0 L1628.0,1366.4 L1630.0,1366.9 L1632.0,1367.4 L1634.0,1367.9 L1636.0,1368.4 L1638.0,1368.9 L1640.0,1369.4 L1642.0,1369.8 L1644.0,1370.3 L1646.0,1370.8 L1648.0,1371.2 L1650.0,1371.7 L1652.0,1372.1 L1654.0,1372.5 L1656.0,1372.9 L1658.0,1373.3 L1660.0,1373.7 L1662.0,1374.1 L1664.0,1374.4 L1666.0,1374.8 L1668.0,1375.1 L1670.0,1375.4 L1672.0,1375.7 L1674.0,1376.0 L1676.0,1376.2 L1678.0,1376.4 L1680.0,1376.7 L1682.0,1376.9 L1684.0,1377.1 L1686.0,1377.3 L1688.0,1377.4 L1690.0,1377.6 L1692.0,1377.7 L1694.0,1377.9 L1696.0,1378.0 L1698.0,1378.1 L1700.0,1378.2 L1702.0,1378.3 L1704.0,1378.4 L1706.0,1378.5 L1708.0,1378.6 L1710.0,1378.7 L1712.0,1378.7 L1714.0,1378.8 L1716.0,1378.9 L1718.0,1378.9 L1720.0,1378.9 L1722.0,1379.0 L1724.0,1379.0 L1726.0,1379.1 L1728.0,1379.1 L1730.0,1379.1 L1732.0,1379.1 L1734.0,1379.1 L1736.0,1379.1 L1738.0,1379.2 L1740.0,1379.2 L1742.0,1379.2 L1744.0,1379.2 L1746.0,1379.2 L1748.0,1379.2 L1750.0,1379.2 L1752.0,1379.2 L1754.0,1379.2 L1756.0,1379.2 L1758.0,1379.2 L1760.0,1379.2 L1762.0,1379.2 L1764.0,1379.2 L1766.0,1379.2 L1768.0,1379.2 L1770.0,1379.2 L1772.0,1379.2 L1774.0,1379.2 L1776.0,1379.2 L1778.0,1379.2 L1780.0,1379.2 L1782.0,1379.2 L1784.0,1379.2 L1786.0,1379.2 L1788.0,1379.2 L1790.0,1379.2 L1792.0,1379.2 L1794.0,1379.2 L1796.0,1379.2 L1798.0,1379.2 L1800.0,1379.2 L1802.0,1379.2 L1804.0,1379.2 L1806.0,1379.2 L1808.0,1379.2 L1810.0,1379.2 L1812.0,1379.2 L1814.0,1379.2 L1816.0,1379.2 L1818.0,1379.2 L1820.0,1379.2 L1822.0,1379.2 L1824.0,1379.2 L1826.0,1379.2 L1828.0,1379.2 L1830.0,1379.2 L1832.0,1379.2 L1834.0,1379.2 L1836.0,1379.2 L1838.0,1379.2 L1840.0,1379.2 L1842.0,1379.2 L1844.0,1379.2 L1846.0,1379.2 L1848.0,1379.2 L1850.0,1379.2 L1852.0,1379.2 L1854.0,1379.2 L1856.0,1379.2 L1858.0,1379.2 L1860.0,1379.2 L1862.0,1379.2 L1864.0,1379.2 L1866.0,1379.2 L1868.0,1379.2 L1870.0,1379.2 L1872.0,1379.2 L1874.0,1379.2 L1876.0,1379.2 L1878.0,1379.2 L1880.0,1379.2 L1882.0,1379.2 L1884.0,1379.2 L1886.0,1379.2 L1888.0,1379.2 L1890.0,1379.2" stroke="#ff7f0e"/>
<path d="M230.0,1379.2 L232.0,1379.2 L234.0,1379.2 L236.0,1379.2 L238.0,1379.2 L240.0,1379.2 L242.0,1379.2 L244.0,1379.2 L246.0,1379.2 L248.0,1379.2 L250.0,1379.2 L252.0,1379.2 L254.0,1379.2 L256.0,1379.2 L258.0,1379.2 L260.0,1379.2 L262.0,1379.2 L264.0,1379.2 L266.0,1379.2 L268.0,1379.2 L270.0,1379.2 L272.0,1379.2 L274.0,1379.2 L276.0,1379.2 L278.0,1379.2 L280.0,1379.2 L282.0,1379.2 L284.0,1379.2 L286.0,1379.2 L288.0,1379.2 L290.0,1379.2 L292.0,1379.2 L294.0,1379.2 L296.0,1379.2 L298.0,1379.2 L300.0,1379.2 L302.0,1379.2 L304.0,1379.2 L306.0,1379.2 L308.0,1379.2 L310.0,1379.2 L312.0,1379.2 L314.0,1379.2 L316.0,1379.2 L318.0,1379.2 L320.0,1379.2 L322.0,1379.2 L324.0,1379.2 L326.0,1379.2 L328.0,1379.2 L330.0,1379.2 L332.0,1379.2 L334.0,1379.2 L336.0,1379.2 L338.0,1379.2 L340.0,1379.2 L342.0,1379.2 L344.0,1379.2 L346.0,1379.2 L348.0,1379.2 L350.0,1379.2 L352.0,1379.2 L354.0,1379.2 L356.0,1379.2 L358.0,1379.2 L360.0,1379.2 L362.0,1379.2 L364.0,1379.2 L366.0,1379.2 L368.0,1379.2 L370.0,1379.2 L372.0,1379.2 L374.0,1379.2 L376.0,1379.2 L378.0,1379.2 L380.0,1379.2 L382.0,1379.1 L384.0,1379.1 L386.0,1379.1 L388.0,1379.1 L390.0,1379.0 L392.0,1379.0 L394.0,1378.9 L396.0,1378.8 L398.0,1378.7 L400.0,1378.6 L402.0,1378.5 L404.0,1378.3 L406.0,1378.1 L408.0,1377.9 L410.0,1377.7 L412.0,1377.4 L414.0,1377.1 L416.0,1376.8 L418.0,1376.5 L420.0,1376.1 L422.0,1375.7 L424.0,1375.3 L426.0,1374.8 L428.0,1374.3 L430.0,1373.9 L432.0,1373.4 L434.0,1372.9 L436.0,1372.3 L438.0,1371.8 L440.0,1371.3 L442.0,1370.8 L444.0,1370.4 L446.0,1369.9 L448.0,1369.4 L450.0,1369.0 L452.0,1368.6 L454.0,1368.3 L456.0,1367.9 L458.0,1367.6 L460.0,1367.4 L462.0,1367.1 L464.0,1367.0 L466.0,1366.8 L468.0,1366.7 L470.0,1366.6 L472.0,1366.6 L474.0,1366.6 L476.0,1366.7 L478.0,1366.8 L480.0,1366.9 L482.0,1367.1 L484.0,1367.4 L486.0,1367.6 L488.0,1367.9 L490.0,1368.3 L492.0,1368.7 L494.0,1369.1 L496.0,1369.6 L498.0,1370.0 L500.0,1370.5 L502.0,1371.0 L504.0,1371.6 L506.0,1372.1 L508.0,1372.6 L510.0,1373.2 L512.0,1373.7 L514.0,1374.2 L516.0,1374.7 L518.0,1375.2 L520.0,1375.6 L522.0,1376.1 L524.0,1376.5 L526.0,1376.8 L528.0,1377.1 L530.0,1377.4 L532.0,1377.7 L534.0,1377.9 L536.0,1378.2 L538.0,1378.3 L540.0,1378.5 L542.0,1378.6 L544.0,1378.7 L546.0,1378.8 L548.0,1378.9 L550.0,1379.0 L552.0,1379.0 L554.0,1379.1 L556.0,1379.1 L558.0,1379.1 L560.0,1379.1 L562.0,1379.2 L564.0,1379.2 L566.0,1379.2 L568.0,1379.2 L570.0,1379.2 L572.0,1379.2 L574.0,1379.2 L576.0,1379.2 L578.0,1379.2 L580.0,1379.2 L582.0,1379.2 L584.0,1379.2 L586.0,1379.2 L588.0,1379.2 L590.0,1379.2 L592.0,1379.2 L594.0,1379.2 L596.0,1379.2 L598.0,1379.2 L600.0,1379.2 L602.0,1379.2 L604.0,1379.2 L606.0,1379.2 L608.0,1379.2 L610.0,1379.2 L612.0,1379.2 L614.0,1379.2 L616.0,1379.2 L618.0,1379.2 L620.0,1379.2 L622.0,1379.2 L624.0,1379.2 L626.0,1379.2 L628.0,1379.2 L630.0,1379.2 L632.0,1379.2 L634.0,1379.2 L636.0,1379.2 L638.0,1379.2 L640.0,1379.2 L642.0,1379.2 L644.0,1379.2 L646.0,1379.2 L648.0,1379.2 L650.0,1379.2 L652.0,1379.2 L654.0,1379.2 L656.0,1379.2 L658.0,1379.2 L660.0,1379.2 L662.0,1379.2 L664.0,1379.2 L666.0,1379.2 L668.0,1379.2 L670.0,1379.2 L672.0,1379.2 L674.0,1379.2 L676.0,1379.2 L678.0,1379.2 L680.0,1379.2 L682.0,1379.2 L684.0,1379.2 L686.0,1379.2 L688.0,1379.2 L690.0,1379.2 L692.0,1379.2 L694.0,1379.2 L696.0,1379.2 L698.0,1379.2 L700.0,1379.2 L702.0,1379.2 L704.0,1379.2 L706.0,1379.2 L708.0,1379.2 L710.0,1379.2 L712.0,1379.2 L714.0,1379.2 L716.0,1379.2 L718.0,1379.2 L720.0,1379.2 L722.0,1379.2 L724.0,1379.2 L726.0,1379.2 L728.0,1379.2 L730.0,1379.1 L732.0,1379.1 L734.0,1379.1 L736.0,1379.1 L738.0,1379.0 L740.0,1379.0 L742.0,1378.9 L744.0,1378.8 L746.0,1378.7 L748.0,1378.6 L750.0,1378.4 L752.0,1378.2 L754.0,1378.0 L756.0,1377.7 L758.0,1377.4 L760.0,1377.1 L762.0,1376.7 L764.0,1376.3 L766.0,1375.8 L768.0,1375.3 L770.0,1374.8 L772.0,1374.1 L774.0,1373.5 L776.0,1372.8 L778.0,1372.0 L780.0,1371.3 L782.0,1370.5 L784.0,1369.6 L786.0,1368.8 L788.0,1367.9 L790.0,1367.1 L792.0,1366.2 L794.0,1365.4 L796.0,1364.5 L798.0,1363.7 L800.0,1362.9 L802.0,1362.1 L804.0,1361.4 L806.0,1360.7 L808.0,1360.0 L810.0,1359.4 L812.0,1358.8 L814.0,1358.2 L816.0,1357.8 L818.0,1357.3 L820.0,1356.9 L822.0,1356.6 L824.0,1356.3 L826.0,1356.0 L828.0,1355.8 L830.0,1355.6 L832.0,1355.5 L834.0,1355.5 L836.0,1355.5 L838.0,1355.5 L840.0,1355.6 L842.0,1355.8 L844.0,1355.9 L846.0,1356.2 L848.0,1356.5 L850.0,1356.8 L852.0,1357.2 L854.0,1357.6 L856.0,1358.1 L858.0,1358.6 L860.0,1359.2 L862.0,1359.8 L864.0,1360.4 L866.0,1361.1 L868.0,1361.8 L870.0,1362.5 L872.0,1363.2 L874.0,1363.9 L876.0,1364.6 L878.0,1365.3 L880.0,1366.0 L882.0,1366.7 L884.0,1367.3 L886.0,1367.9 L888.0,1368.5 L890.0,1369.0 L892.0,1369.4 L894.0,1369.8 L896.0,1370.1 L898.0,1370.4 L900.0,1370.5 L902.0,1370.6 L904.0,1370.5 L906.0,1370.4 L908.0,1370.2 L910.0,1369.9 L912.0,1369.4 L914.0,1368.9 L916.0,1368.3 L918.0,1367.7 L920.0,1366.9 L922.0,1366.0 L924.0,1365.1 L926.0,1364.1 L928.0,1363.1 L930.0,1361.9 L932.0,1360.8 L934.0,1359.6 L936.0,1358.3 L938.0,1357.0 L940.0,1355.7 L942.0,1354.4 L944.0,1353.1 L946.0,1351.7 L948.0,1350.4 L950.0,1349.1 L952.0,1347.8 L954.0,1346.5 L956.0,1345.2 L958.0,1344.0 L960.0,1342.7 L962.0,1341.5 L964.0,1340.3 L966.0,1339.1 L968.0,1338.0 L970.0,1336.8 L972.0,1335.6 L974.0,1334.4 L976.0,1333.1 L978.0,1331.8 L980.0,1330.5 L982.0,1329.1 L984.0,1327.6 L986.0,1325.9 L988.0,1324.2 L990.0,1322.3 L992.0,1320.2 L994.0,1318.0 L996.0,1315.5 L998.0,1312.9 L1000.0,1310.0 L1002.0,1306.9 L1004.0,1303.5 L1006.0,1299.9 L1008.0,1296.0 L1010.0,1291.9 L1012.0,1287.4 L1014.0,1282.7 L1016.0,1277.8 L1018.0,1272.6 L1020.0,1267.1 L1022.0,1261.4 L1024.0,1255.5 L1026.0,1249.5 L1028.0,1243.2 L1030.0,1236.9 L1032.0,1230.4 L1034.0,1223.9 L1036.0,1217.3 L1038.0,1210.7 L1040.0,1204.2 L1042.0,1197.7 L1044.0,1191.3 L1046.0,1185.0 L1048.0,1178.9 L1050.0,1172.9 L1052.0,1167.2 L1054.0,1161.7 L1056.0,1156.4 L1058.0,1151.4 L1060.0,1146.7 L1062.0,1142.2 L1064.0,1138.1 L1066.0,1134.3 L1068.0,1130.7 L1070.0,1127.5 L1072.0,1124.6 L1074.0,1121.9 L1076.0,1119.5 L1078.0,1117.4 L1080.0,1115.5 L1082.0,1113.9 L1084.0,1112.5 L1086.0,1111.4 L1088.0,1110.4 L1090.0,1109.6 L1092.0,1109.0 L1094.0,1108.5 L1096.0,1108.2 L1098.0,1108.1 L1100.0,1108.0 L1102.0,1108.1 L1104.0,1108.3 L1106.0,1108.6 L1108.0,1108.9 L1110.0,1109.4 L1112.0,1110.0 L1114.0,1110.6 L1116.0,1111.3 L1118.0,1112.1 L1120.0,1113.0 L1122.0,1113.9 L1124.0,1115.0 L1126.0,1116.1 L1128.0,1117.3 L1130.0,1118.5 L1132.0,1119.9 L1134.0,1121.3 L1136.0,1122.9 L1138.0,1124.5 L1140.0,1126.2 L1142.0,1128.0 L1144.0,1130.0 L1146.0,1132.0 L1148.0,1134.1 L1150.0,1136.3 L1152.0,1138.7 L1154.0,1141.1 L1156.0,1143.6 L1158.0,1146.3 L1160.0,1149.0 L1162.0,1151.8 L1164.0,1154.7 L1166.0,1157.6 L1168.0,1160.6 L1170.0,1163.7 L1172.0,1166.8 L1174.0,1170.0 L1176.0,1173.1 L1178.0,1176.3 L1180.0,1179.4 L1182.0,1182.6 L1184.0,1185.7 L1186.0,1188.8 L1188.0,1191.8 L1190.0,1194.7 L1192.0,1197.6 L1194.0,1200.3 L1196.0,1203.0 L1198.0,1205.6 L1200.0,1208.0 L1202.0,1210.3 L1204.0,1212.5 L1206.0,1214.6 L1208.0,1216.6 L1210.0,1218.4 L1212.0,1220.1 L1214.0,1221.7 L1216.0,1223.2 L1218.0,1224.5 L1220.0,1225.8 L1222.0,1227.0 L1224.0,1228.0 L1226.0,1229.0 L1228.0,1230.0 L1230.0,1230.8 L1232.0,1231.7 L1234.0,1232.4 L1236.0,1233.1 L1238.0,1233.8 L1240.0,1234.5 L1242.0,1235.1 L1244.0,1235.6 L1246.0,1236.2 L1248.0,1236.7 L1250.0,1237.2 L1252.0,1237.6 L1254.0,1238.0 L1256.0,1238.3 L1258.0,1238.5 L1260.0,1238.7 L1262.0,1238.8 L1264.0,1238.8 L1266.0,1238.6 L1268.0,1238.3 L1270.0,1237.8 L1272.0,1237.2 L1274.0,1236.3 L1276.0,1235.3 L1278.0,1233.9 L1280.0,1232.3 L1282.0,1230.4 L1284.0,1228.1 L1286.0,1225.5 L1288.0,1222.5 L1290.0,1219.1 L1292.0,1215.2 L1294.0,1210.9 L1296.0,1206.1 L1298.0,1200.7 L1300.0,1194.9 L1302.0,1188.5 L1304.0,1181.5 L1306.0,1174.0 L1308.0,1165.9 L1310.0,1157.2 L1312.0,1148.0 L1314.0,1138.1 L1316.0,1127.7 L1318.0,1116.7 L1320.0,1105.2 L1322.0,1093.1 L1324.0,1080.5 L1326.0,1067.4 L1328.0,1053.8 L1330.0,1039.8 L1332.0,1025.4 L1334.0,1010.6 L1336.0,995.4 L1338.0,980.0 L1340.0,964.2 L1342.0,948.3 L1344.0,932.2 L1346.0,915.9 L1348.0,899.6 L1350.0,883.2 L1352.0,866.8 L1354.0,850.5 L1356.0,834.3 L1358.0,818.3 L1360.0,802.5 L1362.0,786.9 L1364.0,771.7 L1366.0,756.8 L1368.0,742.3 L1370.0,728.4 L1372.0,714.9 L1374.0,702.0 L1376.0,689.7 L1378.0,678.1 L1380.0,667.2 L1382.0,657.0 L1384.0,647.6 L1386.0,639.1 L1388.0,631.4 L1390.0,624.6 L1392.0,618.8 L1394.0,613.9 L1396.0,610.0 L1398.0,607.1 L1400.0,605.2 L1402.0,604.4 L1404.0,604.6 L1406.0,605.8 L1408.0,608.0 L1410.0,611.2 L1412.0,615.4 L1414.0,620.5 L1416.0,626.5 L1418.0,633.4 L1420.0,641.1 L1422.0,649.5 L1424.0,658.6 L1426.0,668.3 L1428.0,678.6 L1430.0,689.4 L1432.0,700.6 L1434.0,712.2 L1436.0,724.0 L1438.0,736.1 L1440.0,748.4 L1442.0,760.8 L1444.0,773.3 L1446.0,785.8 L1448.0,798.3 L1450.0,810.8 L1452.0,823.1 L1454.0,835.4 L1456.0,847.5 L1458.0,859.5 L1460.0,871.4 L1462.0,883.0 L1464.0,894.5 L1466.0,905.8 L1468.0,916.8 L1470.0,927.7 L1472.0,938.3 L1474.0,948.8 L1476.0,959.0 L1478.0,969.0 L1480.0,978.7 L1482.0,988.2 L1484.0,997.5 L1486.0,1006.5 L1488.0,1015.4 L1490.0,1024.0 L1492.0,1032.3 L1494.0,1040.5 L1496.0,1048.4 L1498.0,1056.2 L1500.0,1063.8 L1502.0,1071.2 L1504.0,1078.4 L1506.0,1085.5 L1508.0,1092.4 L1510.0,1099.2 L1512.0,1105.9 L1514.0,1112.5 L1516.0,1119.0 L1518.0,1125.4 L1520.0,1131.7 L1522.0,1137.9 L1524.0,1144.1 L1526.0,1150.2 L1528.0,1156.2 L1530.0,1162.1 L1532.0,1167.9 L1534.0,1173.6 L1536.0,1179.3 L1538.0,1184.8 L1540.0,1190.2 L1542.0,1195.5 L1544.0,1200.7 L1546.0,1205.7 L1548.0,1210.6 L1550.0,1215.4 L1552.0,1220.0 L1554.0,1224.5 L1556.0,1228.8 L1558.0,1232.9 L1560.0,1236.9 L1562.0,1240.7 L1564.0,1244.4 L1566.0,1247.8 L1568.0,1251.1 L1570.0,1254.1 L1572.0,1257.0 L1574.0,1259.6 L1576.0,1262.0 L1578.0,1264.2 L1580.0,1266.2 L1582.0,1267.9 L1584.0,1269.3 L1586.0,1270.5 L1588.0,1271.4 L1590.0,1272.0 L1592.0,1272.4 L1594.0,1272.5 L1596.0,1272.4 L1598.0,1272.0 L1600.0,1271.4 L1602.0,1270.6 L1604.0,1269.5 L1606.0,1268.3 L1608.0,1266.8 L1610.0,1265.3 L1612.0,1263.5 L1614.0,1261.7 L1616.0,1259.8 L1618.0,1257.9 L1620.0,1255.9 L1622.0,1253.9 L1624.0,1251.9 L1626.0,1250.0 L1628.0,1248.1 L1630.0,1246.4 L1632.0,1244.8 L1634.0,1243.3 L1636.0,1242.0 L1638.0,1240.9 L1640.0,1240.0 L1642.0,1239.4 L1644.0,1239.0 L1646.0,1238.8 L1648.0,1238.9 L1650.0,1239.3 L1652.0,1240.0 L1654.0,1241.0 L1656.0,1242.2 L1658.0,1243.8 L1660.0,1245.6 L1662.0,1247.6 L1664.0,1250.0 L1666.0,1252.5 L1668.0,1255.3 L1670.0,1258.3 L1672.0,1261.5 L1674.0,1264.8 L1676.0,1268.3 L1678.0,1271.9 L1680.0,1275.6 L1682.0,1279.3 L1684.0,1283.1 L1686.0,1286.9 L1688.0,1290.7 L1690.0,1294.5 L1692.0,1298.2 L1694.0,1301.9 L1696.0,1305.5 L1698.0,1309.0 L1700.0,1312.5 L1702.0,1315.8 L1704.0,1319.0 L1706.0,1322.1 L1708.0,1325.1 L1710.0,1327.9 L1712.0,1330.7 L1714.0,1333.3 L1716.0,1335.8 L1718.0,1338.2 L1720.0,1340.4 L1722.0,1342.6 L1724.0,1344.6 L1726.0,1346.5 L1728.0,1348.4 L1730.0,1350.1 L1732.0,1351.7 L1734.0,1353.3 L1736.0,1354.7 L1738.0,1356.1 L1740.0,1357.4 L1742.0,1358.6 L1744.0,1359.8 L1746.0,1360.9 L1748.0,1362.0 L1750.0,1363.0 L1752.0,1363.9 L1754.0,1364.8 L1756.0,1365.7 L1758.0,1366.6 L1760.0,1367.4 L1762.0,1368.2 L1764.0,1369.0 L1766.0,1369.7 L1768.0,1370.5 L1770.0,1371.2 L1772.0,1371.8 L1774.0,1372.5 L1776.0,1373.1 L1778.0,1373.7 L1780.0,1374.3 L1782.0,1374.8 L1784.0,1375.3 L1786.0,1375.7 L1788.0,1376.2 L1790.0,1376.6 L1792.0,1376.9 L1794.0,1377.3 L1796.0,1377.5 L1798.0,1377.8 L1800.0,1378.0 L1802.0,1378.2 L1804.0,1378.4 L1806.0,1378.5 L1808.0,1378.7 L1810.0,1378.8 L1812.0,1378.9 L1814.0,1378.9 L1816.0,1379.0 L1818.0,1379.0 L1820.0,1379.1 L1822.0,1379.1 L1824.0,1379.1 L1826.0,1379.1 L1828.0,1379.2 L1830.0,1379.2 L1832.0,1379.2 L1834.0,1379.2 L1836.0,1379.2 L1838.0,1379.2 L1840.0,1379.2 L1842.0,1379.2 L1844.0,1379.2 L1846.0,1379.2 L1848.0,1379.2 L1850.0,1379.2 L1852.0,1379.2 L1854.0,1379.2 L1856.0,1379.2 L1858.0,1379.2 L1860.0,1379.2 L1862.0,1379.2 L1864.0,1379.2 L1866.0,1379.2 L1868.0,1379.2 L1870.0,1379.2 L1872.0,1379.2 L1874.0,1379.2 L1876.0,1379.2 L1878.0,1379.2 L1880.0,1379.2 L1882.0,1379.2 L1884.0,1379.2 L1886.0,1379.2 L1888.0,1379.2 L1890.0,1379.2" stroke="#2ca02c"/>
<line x1="1405.5" y1="1376.95" x2="1405.5" y2="154.0" stroke="#1f77b4" stroke-width="11.3" stroke-dasharray="42.5 18.35"/>
<line x1="1506.5" y1="1376.95" x2="1506.5" y2="154.0" stroke="#ff7f0e" stroke-width="11.3" stroke-dasharray="42.5 18.35"/>
<line x1="1700.5" y1="1376.95" x2="1700.5" y2="154.0" stroke="#2ca02c" stroke-width="11.3" stroke-dasharray="42.5 18.35"/>
<line x1="770.6" y1="1376.95" x2="770.6" y2="154.0" stroke="#000" stroke-width="11.3"/>
</g>
<g fill="none" stroke="#000" stroke-width="3.5" stroke-linecap="butt" stroke-linejoin="miter"><path d="M765,333.9 L699,333.9"/><path d="M710.5,323.6 L698.5,333.9 L710.5,344.2"/></g>
<g stroke="#000" stroke-width="3.75">
<line x1="326.91" y1="1376.95" x2="326.91" y2="1392.85"/>
<line x1="548.68" y1="1376.95" x2="548.68" y2="1392.85"/>
<line x1="770.45" y1="1376.95" x2="770.45" y2="1392.85"/>
<line x1="992.22" y1="1376.95" x2="992.22" y2="1392.85"/>
<line x1="1213.99" y1="1376.95" x2="1213.99" y2="1392.85"/>
<line x1="1435.76" y1="1376.95" x2="1435.76" y2="1392.85"/>
<line x1="1657.53" y1="1376.95" x2="1657.53" y2="1392.85"/>
<line x1="1879.30" y1="1376.95" x2="1879.30" y2="1392.85"/>
<line x1="237.9" y1="1183.25" x2="222.00" y2="1183.25"/>
<line x1="237.9" y1="987.19" x2="222.00" y2="987.19"/>
<line x1="237.9" y1="791.13" x2="222.00" y2="791.13"/>
<line x1="237.9" y1="595.07" x2="222.00" y2="595.07"/>
<line x1="237.9" y1="399.01" x2="222.00" y2="399.01"/>
<line x1="237.9" y1="202.95" x2="222.00" y2="202.95"/>
</g>
<rect x="237.9" y="154.0" width="1641.1999999999998" height="1222.95" fill="none" stroke="#000" stroke-width="3.9" stroke-linejoin="miter"/>
<g font-size="45.9">
<text x="326.91" y="1443.7" text-anchor="middle">−10</text>
<text x="548.68" y="1443.7" text-anchor="middle">−5</text>
<text x="770.45" y="1443.7" text-anchor="middle">0</text>
<text x="992.22" y="1443.7" text-anchor="middle">5</text>
<text x="1213.99" y="1443.7" text-anchor="middle">10</text>
<text x="1435.76" y="1443.7" text-anchor="middle">15</text>
<text x="1657.53" y="1443.7" text-anchor="middle">20</text>
<text x="1879.30" y="1443.7" text-anchor="middle">25</text>
<text x="206" y="1200.85" text-anchor="end">20</text>
<text x="206" y="1004.79" text-anchor="end">40</text>
<text x="206" y="808.73" text-anchor="end">60</text>
<text x="206" y="612.67" text-anchor="end">80</text>
<text x="206" y="416.61" text-anchor="end">100</text>
<text x="206" y="220.55" text-anchor="end">120</text>
</g>
<text x="862.5" y="1518.5" font-size="59.9"><tspan class="it">BE</tspan> (kcal/mol)</text>
<text transform="translate(86.3,1098.3) rotate(-90)" font-size="59.7">Frequency distribution</text>
<text x="268" y="287.8" font-size="55.4">Unstable towards</text>
<text x="286.5" y="350.6" font-size="55.4">dissociation</text>
<rect x="435.4" y="35.4" width="1088.2" height="97.8" rx="9" ry="9" fill="#fff" stroke="#d6d6d6" stroke-width="4.6"/>
<line x1="450.8" y1="80.4" x2="573.3" y2="80.4" stroke="#1f77b4" stroke-width="11.3"/>
<text x="611.3" y="100.3" font-size="55.6"><tspan class="it">n</tspan><tspan font-size="53.9" dy="-1.75">⋯</tspan><tspan class="it" dy="1.75">n</tspan></text>
<line x1="837.6" y1="80.4" x2="960.1" y2="80.4" stroke="#ff7f0e" stroke-width="11.3"/>
<text x="1000.3" y="100.1" font-size="55.6"><tspan class="it">n</tspan><tspan font-size="53.9" dy="-1.55">⋯</tspan><tspan class="it" dy="1.55">z</tspan></text>
<line x1="1224.4" y1="80.4" x2="1346.9" y2="80.4" stroke="#2ca02c" stroke-width="11.3"/>
<text x="1387.4" y="99.0" font-size="55.6"><tspan class="it">z</tspan><tspan font-size="53.9" dy="-1.2">⋯</tspan><tspan class="it" dy="1.2">z</tspan></text>
</svg></body></html>
